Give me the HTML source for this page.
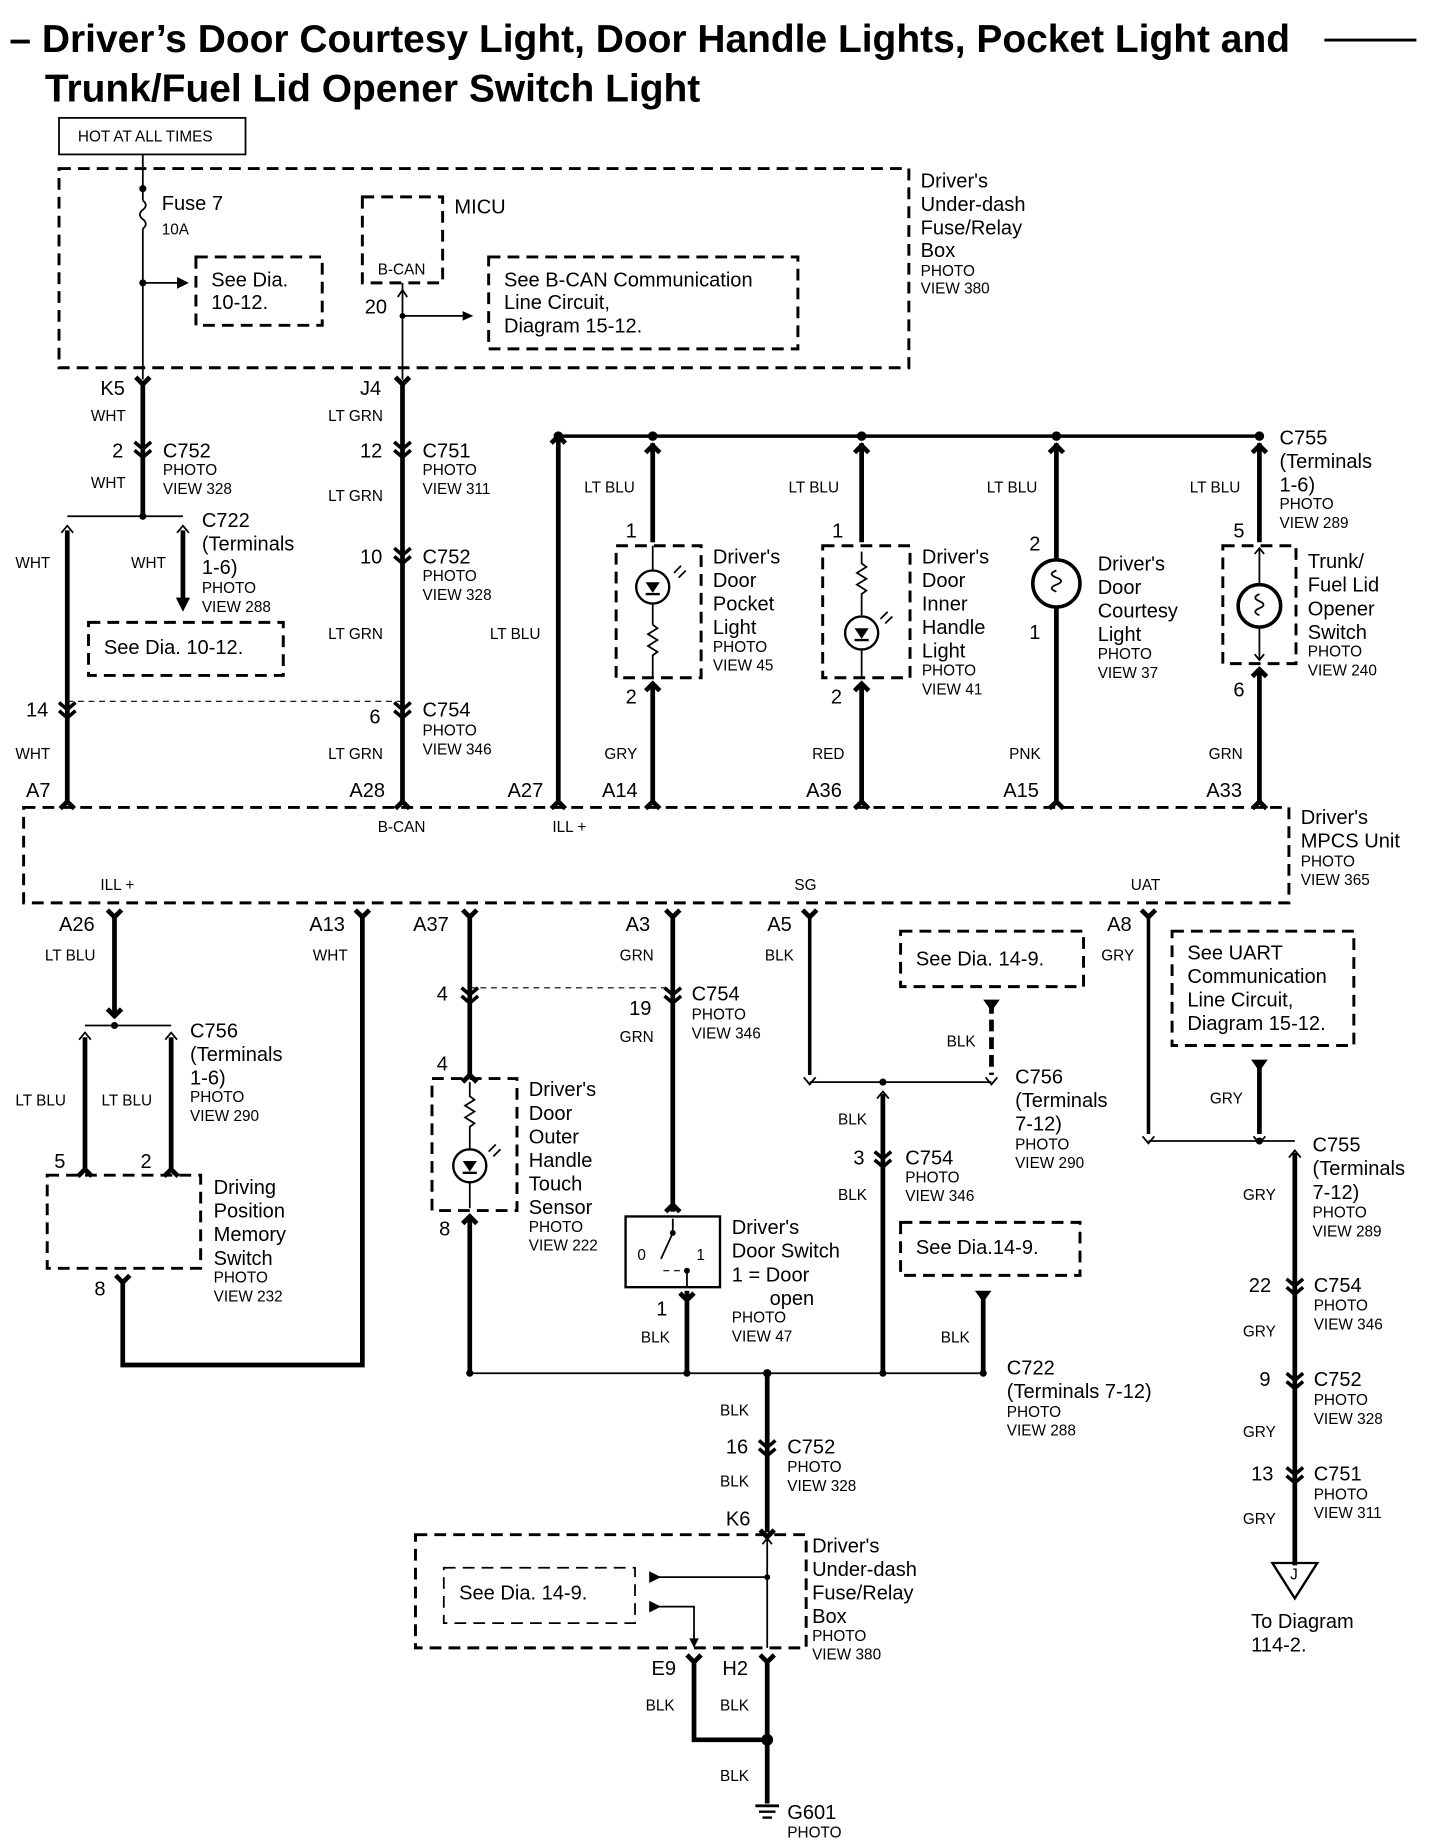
<!DOCTYPE html>
<html><head><meta charset="utf-8"><style>
html,body{margin:0;padding:0;background:#fff}
svg{display:block}
text{font-family:"Liberation Sans",sans-serif;fill:#000}
.n{font-size:17px}
.s{font-size:13px}
.t{font-size:33px;font-weight:bold}
.w{stroke:#000;stroke-width:4;fill:none}
.c{stroke:#000;stroke-width:3;fill:none}
.th{stroke:#000;stroke-width:1.5;fill:none}
.d{stroke:#000;stroke-width:2.5;fill:none;stroke-dasharray:10 6}
.dl{stroke:#000;stroke-width:1;fill:none;stroke-dasharray:5 4}
</style></head><body>
<svg width="1440" height="1840" viewBox="0 0 1220 1561" preserveAspectRatio="none" xmlns="http://www.w3.org/2000/svg">
<rect width="1220" height="1561" fill="#fff"/>
<text class="t" x="8" y="44">– Driver’s Door Courtesy Light, Door Handle Lights, Pocket Light and</text>
<line x1="1122" y1="34" x2="1200" y2="34" stroke="#000" stroke-width="2.5"/>
<text class="t" x="38" y="86">Trunk/Fuel Lid Opener Switch Light</text>

<rect x="50" y="100" width="158" height="31" fill="none" stroke="#000" stroke-width="1.5"/>
<text class="s" x="66" y="120">HOT AT ALL TIMES</text>

<rect class="d" x="50" y="143" width="720" height="169"/>
<line class="th" x1="121" y1="131" x2="121" y2="170"/>
<circle cx="121" cy="160" r="3"/>
<path class="th" d="M121 170 q5 4 0 8 q-5 4 0 8 q5 4 0 8"/>
<line class="th" x1="121" y1="194" x2="121" y2="322"/>
<text class="n" x="137" y="178">Fuse 7</text><text class="s" x="137" y="199">10A</text>
<circle cx="121" cy="240" r="3"/>
<line class="th" x1="121" y1="240" x2="152" y2="240"/><path d="M150 235 L160 240 L150 245Z"/>
<rect class="d" x="166" y="218" width="107" height="58"/>
<text class="n" x="179" y="243">See Dia.</text><text class="n" x="179" y="262">10-12.</text>
<rect class="d" x="307" y="167" width="68" height="73"/>
<text class="n" x="385" y="181">MICU</text><text class="s" x="320" y="233">B-CAN</text>
<line class="th" x1="341" y1="240" x2="341" y2="322"/>
<path class="th" d="M337 252 L341 246 L345 252"/>
<text class="n" x="309" y="266">20</text>
<circle cx="341" cy="268" r="2.5"/>
<line class="th" x1="341" y1="268" x2="394" y2="268"/><path d="M392 264 L401 268 L392 272Z"/>
<rect class="d" x="414" y="218" width="262" height="78"/>
<text class="n" x="427" y="243">See B-CAN Communication</text><text class="n" x="427" y="262">Line Circuit,</text><text class="n" x="427" y="282">Diagram 15-12.</text>
<text class="n" x="780" y="159">Driver's</text><text class="n" x="780" y="179">Under-dash</text><text class="n" x="780" y="199">Fuse/Relay</text><text class="n" x="780" y="218">Box</text>
<text class="s" x="780" y="234">PHOTO</text><text class="s" x="780" y="249">VIEW 380</text>

<!-- K5 column -->
<text class="n" x="85" y="335">K5</text><text class="s" x="77" y="357">WHT</text>
<path class="w" d="M115 320 L121 326 L127 320"/>
<line class="w" x1="121" y1="326" x2="121" y2="438"/>
<path class="c" d="M114 375 L121 381 L128 375 M114 382 L121 388 L128 382"/>
<text class="n" x="95" y="388">2</text><text class="n" x="138" y="388">C752</text><text class="s" x="138" y="403">PHOTO</text><text class="s" x="138" y="419">VIEW 328</text>
<text class="s" x="77" y="414">WHT</text>
<line class="th" x1="57" y1="438" x2="155" y2="438"/><circle cx="121" cy="438" r="3"/>
<path class="th" d="M52 452 L57 446 L62 452 M150 452 L155 446 L160 452"/>
<line class="w" x1="57" y1="450" x2="57" y2="680"/>
<line class="w" x1="155" y1="450" x2="155" y2="508"/><path d="M149 507 L155 519 L161 507Z"/>
<text class="s" x="13" y="482">WHT</text><text class="s" x="111" y="482">WHT</text>
<text class="n" x="171" y="447">C722</text><text class="n" x="171" y="467">(Terminals</text><text class="n" x="171" y="487">1-6)</text><text class="s" x="171" y="503">PHOTO</text><text class="s" x="171" y="519">VIEW 288</text>
<rect class="d" x="75" y="528" width="165" height="45"/>
<text class="n" x="88" y="555">See Dia. 10-12.</text>
<line class="dl" x1="57" y1="595" x2="341" y2="595"/>
<path class="c" d="M50 596 L57 602 L64 596 M50 603 L57 609 L64 603"/>
<text class="n" x="22" y="608">14</text><text class="s" x="13" y="644">WHT</text>
<text class="n" x="22" y="676">A7</text>

<!-- J4 -->
<text class="n" x="305" y="335">J4</text><text class="s" x="278" y="357">LT GRN</text>
<path class="w" d="M335 320 L341 326 L347 320"/>
<line class="w" x1="341" y1="326" x2="341" y2="680"/>
<path class="c" d="M334 375 L341 381 L348 375 M334 382 L341 388 L348 382"/>
<text class="n" x="305" y="388">12</text><text class="n" x="358" y="388">C751</text><text class="s" x="358" y="403">PHOTO</text><text class="s" x="358" y="419">VIEW 311</text>
<text class="s" x="278" y="425">LT GRN</text>
<path class="c" d="M334 465 L341 471 L348 465 M334 472 L341 478 L348 472"/>
<text class="n" x="305" y="478">10</text><text class="n" x="358" y="478">C752</text><text class="s" x="358" y="493">PHOTO</text><text class="s" x="358" y="509">VIEW 328</text>
<text class="s" x="278" y="542">LT GRN</text>
<path class="c" d="M334 596 L341 602 L348 596 M334 603 L341 609 L348 603"/>
<text class="n" x="313" y="614">6</text><text class="n" x="358" y="608">C754</text><text class="s" x="358" y="624">PHOTO</text><text class="s" x="358" y="640">VIEW 346</text>
<text class="s" x="278" y="644">LT GRN</text><text class="n" x="296" y="676">A28</text>

<!-- bus -->
<line class="w" x1="473" y1="370" x2="1067" y2="370" style="stroke-width:3"/>
<circle cx="473" cy="370" r="4"/><circle cx="553" cy="370" r="4"/><circle cx="730" cy="370" r="4"/><circle cx="895" cy="370" r="4"/><circle cx="1067" cy="370" r="4"/>
<line class="w" x1="473" y1="370" x2="473" y2="680"/>
<path class="w" d="M467 376 L473 370 L479 376"/>
<text class="s" x="415" y="542">LT BLU</text><text class="n" x="430" y="676">A27</text>
<g>
<line class="w" x1="553" y1="376" x2="553" y2="460"/><path class="w" d="M547 384 L553 378 L559 384"/>
<text class="s" x="495" y="418">LT BLU</text><text class="n" x="530" y="456">1</text>
<rect class="d" x="522" y="463" width="72" height="112"/>
<circle cx="553" cy="498" r="14" fill="none" stroke="#000" stroke-width="2"/><path d="M547 494 L559 494 L553 503Z"/><line x1="547" y1="504" x2="559" y2="504" stroke="#000" stroke-width="2"/>
<path class="th" d="M571 486 l6 -6 M575 490 l6 -6"/>
<line class="th" x1="553" y1="463" x2="553" y2="484"/><line class="th" x1="553" y1="512" x2="553" y2="530"/>
<path class="th" d="M553 530 l4 3 l-8 5 l8 5 l-8 5 l8 5 l-4 3 L553 575"/>
<line class="w" x1="553" y1="580" x2="553" y2="680"/><path class="w" d="M547 586 L553 580 L559 586"/>
<text class="n" x="530" y="597">2</text><text class="s" x="512" y="644">GRY</text><text class="n" x="510" y="676">A14</text>
<text class="n" x="604" y="478">Driver's</text><text class="n" x="604" y="498">Door</text><text class="n" x="604" y="518">Pocket</text><text class="n" x="604" y="538">Light</text><text class="s" x="604" y="553">PHOTO</text><text class="s" x="604" y="569">VIEW 45</text>
</g>
<g>
<line class="w" x1="730" y1="376" x2="730" y2="460"/><path class="w" d="M724 384 L730 378 L736 384"/>
<text class="s" x="668" y="418">LT BLU</text><text class="n" x="705" y="456">1</text>
<rect class="d" x="697" y="463" width="74" height="112"/>
<path class="th" d="M730 468 L730 478 l4 3 l-8 5 l8 5 l-8 5 l8 5 l-4 3 L730 522"/>
<circle cx="730" cy="537" r="14" fill="none" stroke="#000" stroke-width="2"/><path d="M724 533 L736 533 L730 542Z"/><line x1="724" y1="543" x2="736" y2="543" stroke="#000" stroke-width="2"/>
<path class="th" d="M746 525 l6 -6 M750 529 l6 -6"/>
<line class="th" x1="730" y1="551" x2="730" y2="575"/>
<line class="w" x1="730" y1="580" x2="730" y2="680"/><path class="w" d="M724 586 L730 580 L736 586"/>
<text class="n" x="704" y="597">2</text><text class="s" x="688" y="644">RED</text><text class="n" x="683" y="676">A36</text>
<text class="n" x="781" y="478">Driver's</text><text class="n" x="781" y="498">Door</text><text class="n" x="781" y="518">Inner</text><text class="n" x="781" y="538">Handle</text><text class="n" x="781" y="558">Light</text><text class="s" x="781" y="573">PHOTO</text><text class="s" x="781" y="589">VIEW 41</text>
</g>
<g>
<line class="w" x1="895" y1="376" x2="895" y2="474"/><path class="w" d="M889 384 L895 378 L901 384"/>
<text class="s" x="836" y="418">LT BLU</text><text class="n" x="872" y="467">2</text>
<circle cx="895" cy="495" r="20" fill="none" stroke="#000" stroke-width="3"/>
<path class="th" d="M895 484 q-8 3 0 6 q8 3 0 6 q-8 3 0 6"/>
<line class="w" x1="895" y1="515" x2="895" y2="680"/>
<text class="n" x="872" y="542">1</text><text class="s" x="855" y="644">PNK</text><text class="n" x="850" y="676">A15</text>
<text class="n" x="930" y="484">Driver's</text><text class="n" x="930" y="504">Door</text><text class="n" x="930" y="524">Courtesy</text><text class="n" x="930" y="544">Light</text><text class="s" x="930" y="559">PHOTO</text><text class="s" x="930" y="575">VIEW 37</text>
</g>
<g>
<line class="w" x1="1067" y1="376" x2="1067" y2="460"/><path class="w" d="M1061 384 L1067 378 L1073 384"/>
<text class="s" x="1008" y="418">LT BLU</text><text class="n" x="1045" y="456">5</text>
<rect class="d" x="1036" y="463" width="62" height="100"/>
<path class="th" d="M1063 470 L1067 465 L1071 470"/>
<line class="th" x1="1067" y1="466" x2="1067" y2="496"/>
<circle cx="1067" cy="514" r="18" fill="none" stroke="#000" stroke-width="3"/>
<path class="th" d="M1067 504 q-7 3 0 6 q7 3 0 6 q-7 3 0 6"/>
<line class="th" x1="1067" y1="532" x2="1067" y2="560"/>
<path class="th" d="M1063 555 L1067 560 L1071 555"/>
<line class="w" x1="1067" y1="568" x2="1067" y2="680"/><path class="w" d="M1061 574 L1067 568 L1073 574"/>
<text class="n" x="1045" y="591">6</text><text class="s" x="1024" y="644">GRN</text><text class="n" x="1022" y="676">A33</text>
<text class="n" x="1108" y="482">Trunk/</text><text class="n" x="1108" y="502">Fuel Lid</text><text class="n" x="1108" y="522">Opener</text><text class="n" x="1108" y="542">Switch</text><text class="s" x="1108" y="557">PHOTO</text><text class="s" x="1108" y="573">VIEW 240</text>
</g>
<text class="n" x="1084" y="377">C755</text><text class="n" x="1084" y="397">(Terminals</text><text class="n" x="1084" y="417">1-6)</text><text class="s" x="1084" y="432">PHOTO</text><text class="s" x="1084" y="448">VIEW 289</text>

<path class="w" d="M51 686 L57 680 L63 686 M335 686 L341 680 L347 686 M467 686 L473 680 L479 686 M547 686 L553 680 L559 686 M724 686 L730 680 L736 686 M889 686 L895 680 L901 686 M1061 686 L1067 680 L1073 686"/>

<rect class="d" x="20" y="685" width="1072" height="81"/>
<text class="s" x="320" y="706">B-CAN</text><text class="s" x="468" y="706">ILL +</text>
<text class="s" x="85" y="755">ILL +</text><text class="s" x="673" y="755">SG</text><text class="s" x="958" y="755">UAT</text>
<text class="n" x="1102" y="699">Driver's</text><text class="n" x="1102" y="719">MPCS Unit</text><text class="s" x="1102" y="735">PHOTO</text><text class="s" x="1102" y="751">VIEW 365</text>

<path class="w" d="M91 772 L97 778 L103 772 M301 772 L307 778 L313 772 M392 772 L398 778 L404 772 M564 772 L570 778 L576 772 M680 772 L686 778 L692 772 M967 772 L973 778 L979 772"/>

<text class="n" x="50" y="790">A26</text><text class="s" x="38" y="815">LT BLU</text>
<line class="w" x1="97" y1="776" x2="97" y2="862"/><path class="w" d="M91 856 L97 862 L103 856"/>
<line class="th" x1="72" y1="870" x2="145" y2="870"/><circle cx="97" cy="870" r="3"/>
<path class="th" d="M67 882 L72 876 L77 882 M140 882 L145 876 L150 882"/>
<line class="w" x1="72" y1="880" x2="72" y2="992"/><line class="w" x1="145" y1="880" x2="145" y2="992"/>
<path class="w" d="M66 998 L72 992 L78 998 M139 998 L145 992 L151 998"/>
<text class="n" x="161" y="880">C756</text><text class="n" x="161" y="900">(Terminals</text><text class="n" x="161" y="920">1-6)</text><text class="s" x="161" y="935">PHOTO</text><text class="s" x="161" y="951">VIEW 290</text>
<text class="s" x="13" y="938">LT BLU</text><text class="s" x="86" y="938">LT BLU</text>
<text class="n" x="46" y="991">5</text><text class="n" x="119" y="991">2</text>
<rect class="d" x="40" y="997" width="130" height="79"/>
<text class="n" x="181" y="1013">Driving</text><text class="n" x="181" y="1033">Position</text><text class="n" x="181" y="1053">Memory</text><text class="n" x="181" y="1073">Switch</text><text class="s" x="181" y="1088">PHOTO</text><text class="s" x="181" y="1104">VIEW 232</text>
<text class="n" x="80" y="1099">8</text>
<path class="w" d="M98 1082 L104 1088 L110 1082"/>
<path class="w" d="M104 1088 L104 1158 L307 1158 L307 776"/>
<text class="n" x="262" y="790">A13</text><text class="s" x="265" y="815">WHT</text>

<text class="n" x="350" y="790">A37</text>
<line class="w" x1="398" y1="776" x2="398" y2="912"/>
<path class="c" d="M391 838 L398 844 L405 838 M391 845 L398 851 L405 845"/>
<line class="dl" x1="398" y1="838" x2="570" y2="838"/>
<text class="n" x="370" y="849">4</text><text class="n" x="370" y="908">4</text>
<path class="w" d="M392 918 L398 912 L404 918"/>
<rect class="d" x="366" y="915" width="72" height="112"/>
<path class="th" d="M398 918 L398 930 l4 3 l-8 5 l8 5 l-8 5 l8 5 l-4 3 L398 974"/>
<circle cx="398" cy="989" r="14" fill="none" stroke="#000" stroke-width="2"/><path d="M392 985 L404 985 L398 994Z"/><line x1="392" y1="995" x2="404" y2="995" stroke="#000" stroke-width="2"/>
<path class="th" d="M414 977 l6 -6 M418 981 l6 -6"/>
<line class="th" x1="398" y1="1003" x2="398" y2="1025"/>
<text class="n" x="448" y="930">Driver's</text><text class="n" x="448" y="950">Door</text><text class="n" x="448" y="970">Outer</text><text class="n" x="448" y="990">Handle</text><text class="n" x="448" y="1010">Touch</text><text class="n" x="448" y="1030">Sensor</text><text class="s" x="448" y="1045">PHOTO</text><text class="s" x="448" y="1061">VIEW 222</text>
<text class="n" x="372" y="1048">8</text>
<path class="w" d="M392 1038 L398 1032 L404 1038"/>
<line class="w" x1="398" y1="1034" x2="398" y2="1165"/>

<text class="n" x="530" y="790">A3</text><text class="s" x="525" y="815">GRN</text>
<line class="w" x1="570" y1="776" x2="570" y2="1028"/>
<path class="c" d="M563 838 L570 844 L577 838 M563 845 L570 851 L577 845"/>
<text class="n" x="586" y="849">C754</text><text class="s" x="586" y="865">PHOTO</text><text class="s" x="586" y="881">VIEW 346</text>
<text class="n" x="533" y="861">19</text><text class="s" x="525" y="884">GRN</text>
<path class="w" d="M564 1028 L570 1022 L576 1028"/>
<rect x="530" y="1032" width="80" height="60" fill="none" stroke="#000" stroke-width="2"/>
<text class="s" x="540" y="1069">0</text><text class="s" x="590" y="1069">1</text>
<path class="th" d="M570 1034 L570 1046 L560 1068"/><circle cx="570" cy="1046" r="2.5"/><circle cx="582" cy="1078" r="2.5"/>
<line class="dl" x1="562" y1="1078" x2="582" y2="1078"/><line class="th" x1="582" y1="1078" x2="582" y2="1092"/>
<text class="n" x="620" y="1047">Driver's</text><text class="n" x="620" y="1067">Door Switch</text><text class="n" x="620" y="1087">1 = Door</text><text class="n" x="652" y="1107">open</text><text class="s" x="620" y="1122">PHOTO</text><text class="s" x="620" y="1138">VIEW 47</text>
<text class="n" x="556" y="1116">1</text><text class="s" x="543" y="1139">BLK</text>
<path class="w" d="M576 1097 L582 1103 L588 1097"/>
<line class="w" x1="582" y1="1095" x2="582" y2="1165"/>

<text class="n" x="650" y="790">A5</text><text class="s" x="648" y="815">BLK</text>
<line class="w" x1="686" y1="776" x2="686" y2="912" style="stroke-width:3"/>
<path class="th" d="M681 914 L686 920 L691 914"/>
<line class="th" x1="686" y1="918" x2="840" y2="918"/><circle cx="748" cy="918" r="3"/>
<path class="th" d="M835 914 L840 920 L845 914"/>
<rect class="d" x="763" y="790" width="155" height="47"/>
<text class="n" x="776" y="819">See Dia. 14-9.</text>
<path d="M833 848 L847 848 L840 858Z"/>
<line class="w" x1="840" y1="850" x2="840" y2="912" style="stroke-dasharray:10 5"/>
<text class="s" x="802" y="888">BLK</text>
<text class="n" x="860" y="919">C756</text><text class="n" x="860" y="939">(Terminals</text><text class="n" x="860" y="959">7-12)</text><text class="s" x="860" y="975">PHOTO</text><text class="s" x="860" y="991">VIEW 290</text>
<path class="th" d="M743 932 L748 926 L753 932"/>
<line class="w" x1="748" y1="928" x2="748" y2="1165"/>
<text class="s" x="710" y="954">BLK</text>
<path class="c" d="M741 977 L748 983 L755 977 M741 984 L748 990 L755 984"/>
<text class="n" x="723" y="988">3</text><text class="n" x="767" y="988">C754</text><text class="s" x="767" y="1003">PHOTO</text><text class="s" x="767" y="1019">VIEW 346</text>
<text class="s" x="710" y="1018">BLK</text>
<rect class="d" x="763" y="1037" width="152" height="45"/>
<text class="n" x="776" y="1064">See Dia.14-9.</text>
<path d="M826 1095 L840 1095 L833 1105Z"/>
<line class="w" x1="833" y1="1100" x2="833" y2="1165"/>
<text class="s" x="797" y="1139">BLK</text>

<line class="th" x1="398" y1="1165" x2="835" y2="1165"/>
<circle cx="398" cy="1165" r="3"/><circle cx="582" cy="1165" r="3"/><circle cx="650" cy="1165" r="3.5"/><circle cx="748" cy="1165" r="3"/><circle cx="833" cy="1165" r="3"/>
<text class="n" x="853" y="1166">C722</text><text class="n" x="853" y="1186">(Terminals 7-12)</text><text class="s" x="853" y="1202">PHOTO</text><text class="s" x="853" y="1218">VIEW 288</text>

<line class="w" x1="650" y1="1165" x2="650" y2="1300"/>
<text class="s" x="610" y="1201">BLK</text>
<path class="c" d="M643 1222 L650 1228 L657 1222 M643 1229 L650 1235 L657 1229"/>
<text class="n" x="615" y="1233">16</text><text class="n" x="667" y="1233">C752</text><text class="s" x="667" y="1249">PHOTO</text><text class="s" x="667" y="1265">VIEW 328</text>
<text class="s" x="610" y="1261">BLK</text>
<text class="n" x="615" y="1294">K6</text>
<path class="w" d="M644 1298 L650 1304 L656 1298"/>

<rect class="d" x="352" y="1302" width="331" height="96"/>
<line class="th" x1="650" y1="1304" x2="650" y2="1398"/>
<path class="th" d="M646 1310 L650 1305 L654 1310"/>
<rect class="d" x="376" y="1330" width="162" height="47" style="stroke-width:1.5"/>
<text class="n" x="389" y="1357">See Dia. 14-9.</text>
<path d="M550 1333 L560 1338 L550 1343Z"/><line class="th" x1="555" y1="1338" x2="650" y2="1338"/><circle cx="650" cy="1338" r="2.5"/>
<path d="M550 1358 L560 1363 L550 1368Z"/><path class="th" d="M555 1363 L588 1363 L588 1394"/><path d="M584 1390 L588 1398 L592 1390Z"/>
<text class="n" x="688" y="1317">Driver's</text><text class="n" x="688" y="1337">Under-dash</text><text class="n" x="688" y="1357">Fuse/Relay</text><text class="n" x="688" y="1377">Box</text><text class="s" x="688" y="1392">PHOTO</text><text class="s" x="688" y="1408">VIEW 380</text>
<text class="n" x="552" y="1421">E9</text><text class="n" x="612" y="1421">H2</text>
<path class="w" d="M582 1404 L588 1410 L594 1404 M644 1404 L650 1410 L656 1404"/>
<path class="w" d="M588 1408 L588 1476 L650 1476"/>
<line class="w" x1="650" y1="1408" x2="650" y2="1530"/>
<circle cx="650" cy="1476" r="5"/>
<text class="s" x="547" y="1451">BLK</text><text class="s" x="610" y="1451">BLK</text><text class="s" x="610" y="1511">BLK</text>
<line x1="640" y1="1532" x2="660" y2="1532" stroke="#000" stroke-width="2.5"/>
<line x1="643" y1="1537" x2="657" y2="1537" stroke="#000" stroke-width="2"/>
<line x1="646" y1="1542" x2="654" y2="1542" stroke="#000" stroke-width="2"/>
<text class="n" x="667" y="1543">G601</text><text class="s" x="667" y="1559">PHOTO</text>

<text class="n" x="938" y="790">A8</text><text class="s" x="933" y="815">GRY</text>
<line class="w" x1="973" y1="776" x2="973" y2="962" style="stroke-width:3"/>
<path class="th" d="M968 964 L973 970 L978 964"/>
<line class="th" x1="973" y1="968" x2="1097" y2="968"/><circle cx="1067" cy="968" r="3"/>
<rect class="d" x="993" y="790" width="154" height="97"/>
<text class="n" x="1006" y="814">See UART</text><text class="n" x="1006" y="834">Communication</text><text class="n" x="1006" y="854">Line Circuit,</text><text class="n" x="1006" y="874">Diagram  15-12.</text>
<path d="M1060 899 L1074 899 L1067 909Z"/>
<line class="w" x1="1067" y1="903" x2="1067" y2="962"/>
<path class="th" d="M1062 964 L1067 970 L1072 964"/>
<text class="s" x="1025" y="936">GRY</text>
<path class="th" d="M1092 982 L1097 976 L1102 982"/>
<line class="w" x1="1097" y1="978" x2="1097" y2="1328"/>
<text class="n" x="1112" y="977">C755</text><text class="n" x="1112" y="997">(Terminals</text><text class="n" x="1112" y="1017">7-12)</text><text class="s" x="1112" y="1033">PHOTO</text><text class="s" x="1112" y="1049">VIEW 289</text>
<text class="s" x="1053" y="1018">GRY</text>
<path class="c" d="M1090 1085 L1097 1091 L1104 1085 M1090 1092 L1097 1098 L1104 1092"/>
<text class="n" x="1058" y="1096">22</text><text class="n" x="1113" y="1096">C754</text><text class="s" x="1113" y="1112">PHOTO</text><text class="s" x="1113" y="1128">VIEW 346</text>
<text class="s" x="1053" y="1134">GRY</text>
<path class="c" d="M1090 1165 L1097 1171 L1104 1165 M1090 1172 L1097 1178 L1104 1172"/>
<text class="n" x="1067" y="1176">9</text><text class="n" x="1113" y="1176">C752</text><text class="s" x="1113" y="1192">PHOTO</text><text class="s" x="1113" y="1208">VIEW 328</text>
<text class="s" x="1053" y="1219">GRY</text>
<path class="c" d="M1090 1245 L1097 1251 L1104 1245 M1090 1252 L1097 1258 L1104 1252"/>
<text class="n" x="1060" y="1256">13</text><text class="n" x="1113" y="1256">C751</text><text class="s" x="1113" y="1272">PHOTO</text><text class="s" x="1113" y="1288">VIEW 311</text>
<text class="s" x="1053" y="1293">GRY</text>
<path d="M1078 1326 L1116 1326 L1097 1356Z" fill="none" stroke="#000" stroke-width="2"/>
<text class="s" x="1093" y="1340">J</text>
<text class="n" x="1060" y="1381">To Diagram</text><text class="n" x="1060" y="1401">114-2.</text>
</svg>
</body></html>
